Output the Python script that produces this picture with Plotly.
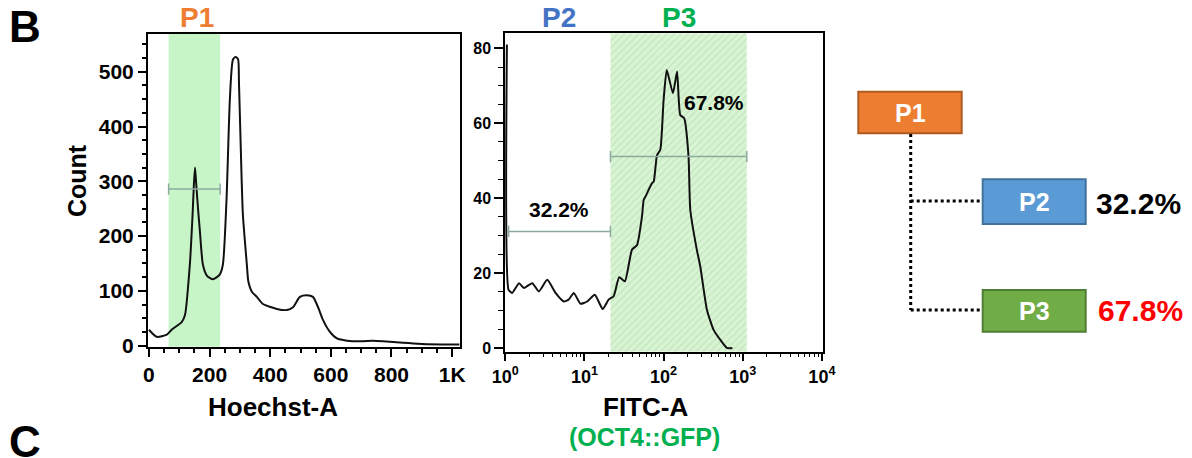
import numpy as np
import plotly.graph_objects as go

# ---------------- data ----------------
hoechst_x = [0, 26, 59, 75, 108, 119, 135, 144, 148, 152, 156, 162, 168, 178, 191, 211, 234, 244, 256, 267,
             277, 286, 294, 297, 306, 310, 323, 328, 340, 356, 376, 422, 455, 475, 498, 521, 541, 558,
             574, 597, 620, 653, 700, 739, 772, 838, 900, 1000, 1024]
hoechst_count = [29, 16, 20, 29, 43, 56, 148, 239, 290, 325, 295, 250, 210, 148, 128, 121, 130, 148, 267, 450,
                 522, 527, 523, 481, 300, 239, 148, 117, 98, 89, 76, 67, 65, 70, 89, 92, 89, 70,
                 47, 25, 13, 9, 8, 9, 8, 5, 3, 2, 2]

fitc_x = [1.047, 1.10, 1.22, 1.49, 1.72, 2.19, 2.65, 3.39, 4.31, 5.48, 6.31, 7.33, 8.91, 10.8, 13.5, 17.0,
          20.2, 23.4, 27.5, 32.4, 39.8, 46.2, 53.3, 56.0, 58.9, 71.4, 75.0, 82.6, 90.8, 100, 109.6, 131.2,
          147.9, 162.2, 182, 206.5, 217.3, 263, 290.4, 352.4, 426.6, 518.8, 631, 740]
fitc_count = [81, 15.5, 14.7, 17.3, 16.0, 17.3, 15.1, 18.2, 14.7, 12.4, 12.9, 14.7, 11.8, 12.4, 14.2, 10.4,
              12.9, 13.8, 18.9, 17.8, 26.2, 27.5, 35.1, 39.5, 40.4, 44.0, 44.4, 51.5, 52.9, 66.2, 74.2, 68.0,
              73.8, 62.2, 61.3, 51.1, 36.9, 26.2, 21.8, 10.2, 4.9, 2.2, 0, 0]

# gates
p1_gate = [65, 235]
p1_gate_level = 286
p2_gate = [1.1, 21.3]
p2_gate_level = 31.1
p3_gate = [21.3, 1125]
p3_gate_level = 51.1
p2_pct = "32.2%"
p3_pct = "67.8%"
p2_label_pos = [4.77, 36.9]
p3_label_pos = [436, 65.4]

left_xticks = [0, 200, 400, 600, 800, 1000]
left_xticktext = ["0", "200", "400", "600", "800", "1K"]
left_yticks = [0, 100, 200, 300, 400, 500]
right_xticks = [1, 10, 100, 1000, 10000]
right_xticktext = ["10<sup>0</sup>", "10<sup>1</sup>", "10<sup>2</sup>", "10<sup>3</sup>", "10<sup>4</sup>"]
right_yticks = [0, 20, 40, 60, 80]

W, H = 1192, 458
FONT = "Liberation Sans, Arial, sans-serif"


def px(x):
    return x / W


def py(y):
    return 1 - y / H


fig = go.Figure()

GATE_C = "rgb(140,170,160)"
BAND1 = "#C8F5C8"

# P3 hatched band
fig.add_trace(go.Scatter(
    x=[p3_gate[0], p3_gate[1], p3_gate[1], p3_gate[0], p3_gate[0]],
    y=[-1, -1, 84, 84, -1], xaxis="x2", yaxis="y2", mode="lines",
    line=dict(width=0), fill="toself", fillcolor="#D6F2D1",
    fillpattern=dict(shape="/", fgcolor="#C2E6BC", bgcolor="#D9F4D4", size=5, solidity=0.25),
    hoverinfo="skip", showlegend=False))

# left histogram
fig.add_trace(go.Scatter(x=hoechst_x, y=hoechst_count, mode="lines",
                         line=dict(color="#111111", width=2, shape="spline", smoothing=0.6),
                         showlegend=False, xaxis="x", yaxis="y"))
# right histogram
fig.add_trace(go.Scatter(x=fitc_x, y=fitc_count, mode="lines",
                         line=dict(color="#111111", width=2, shape="spline", smoothing=0.5),
                         showlegend=False, xaxis="x2", yaxis="y2"))

# gate lines
for gx, gy, xa, ya in [(p1_gate, p1_gate_level, "x", "y"),
                       (p2_gate, p2_gate_level, "x2", "y2"),
                       (p3_gate, p3_gate_level, "x2", "y2")]:
    fig.add_trace(go.Scatter(x=gx, y=[gy, gy], mode="lines+markers", xaxis=xa, yaxis=ya,
                             line=dict(color=GATE_C, width=1.5),
                             marker=dict(symbol="line-ns-open", size=8, line=dict(color=GATE_C, width=1.5)),
                             showlegend=False, hoverinfo="skip"))

# P1 band
fig.add_shape(type="rect", xref="x", yref="y domain", x0=p1_gate[0], x1=p1_gate[1], y0=0, y1=1,
              fillcolor=BAND1, line=dict(width=0), layer="below")

axis_common = dict(showline=True, linecolor="black", linewidth=2, mirror=True, ticks="outside",
                   showgrid=False, zeroline=False, automargin=False, tickcolor="black")

fig.update_layout(
    width=W, height=H, template="none",
    margin=dict(l=0, r=0, t=0, b=0),
    paper_bgcolor="white", plot_bgcolor="rgba(0,0,0,0)",
    showlegend=False,
    xaxis=dict(domain=[px(148), px(460)], range=[-3, 1026], tickvals=left_xticks,
               ticktext=left_xticktext, ticklen=8, tickwidth=2,
               tickfont=dict(family=FONT, size=21, color="black", weight="bold"),
               minor=dict(ticks="outside", dtick=50, ticklen=4, tickwidth=1.5, tickcolor="black"),
               anchor="y", **axis_common),
    yaxis=dict(domain=[py(346.7), py(34)], range=[-2, 569], tickvals=left_yticks, ticklen=8, tickwidth=2,
               tickfont=dict(family=FONT, size=21, color="black", weight="bold"),
               minor=dict(ticks="outside", dtick=25, ticklen=4, tickwidth=1.5, tickcolor="black"),
               anchor="x", **axis_common),
    xaxis2=dict(domain=[px(505), px(823)], type="log", range=[-0.004, 4.014], tickvals=right_xticks,
                ticktext=right_xticktext, ticklen=8, tickwidth=1.5,
                tickfont=dict(family=FONT, size=18, color="black", weight="bold"),
                minor=dict(ticks="outside", dtick="D1", ticklen=4, tickwidth=1.2, tickcolor="black"),
                anchor="y2", **axis_common),
    yaxis2=dict(domain=[py(351.7), py(33.3)], range=[-1, 84], tickvals=right_yticks, ticklen=9, tickwidth=1.5,
                tickfont=dict(family=FONT, size=16, color="black", weight="bold"),
                minor=dict(ticks="outside", dtick=5, ticklen=5, tickwidth=1.2, tickcolor="black"),
                anchor="x2", **axis_common),
)
fig.layout.xaxis2.linewidth = 1.5
fig.layout.yaxis2.linewidth = 1.5

ann = []


def txt(text, x, y, size, color="black", angle=0):
    ann.append(dict(text=text, x=px(x), y=py(y), xref="paper", yref="paper", showarrow=False,
                    xanchor="center", yanchor="middle", textangle=angle,
                    font=dict(family=FONT, size=size, color=color, weight="bold")))


txt("B", 25, 27, 44)
txt("C", 25, 441, 44)
txt("P1", 197, 18, 28, "#ED7D31")
txt("P2", 559, 18, 28, "#4472C4")
txt("P3", 679, 18, 28, "#00B050")
txt("Count", 77, 181, 25, angle=-90)
txt("Hoechst-A", 273, 407, 26)
txt("FITC-A", 645, 407, 26)
txt("(OCT4::GFP)", 644, 437, 25, "#00B050")

# percentage labels in the right plot (data coords, log x)
for t, pos in [(p2_pct, p2_label_pos), (p3_pct, p3_label_pos)]:
    ann.append(dict(text=t, x=np.log10(pos[0]), y=pos[1], xref="x2", yref="y2", showarrow=False,
                    xanchor="center", yanchor="middle",
                    font=dict(family=FONT, size=21, color="black", weight="bold")))

# ---------------- gating tree ----------------
boxes = [("P1", 858.3, 961.7, 91.7, 133.3, "#ED7D31", "#AE5A21"),
         ("P2", 982.7, 1085.7, 179.3, 224, "#5B9BD5", "#41719C"),
         ("P3", 982.7, 1085.7, 290, 331.7, "#70AD47", "#507E32")]
for name, x0, x1, y0, y1, fc, lc in boxes:
    fig.add_shape(type="rect", xref="paper", yref="paper", x0=px(x0), x1=px(x1), y0=py(y1), y1=py(y0),
                  fillcolor=fc, line=dict(color=lc, width=2))
    ann.append(dict(text=name, x=px((x0 + x1) / 2), y=py((y0 + y1) / 2), xref="paper", yref="paper",
                    showarrow=False, xanchor="center", yanchor="middle",
                    font=dict(family=FONT, size=25, color="white", weight="bold")))

dot = dict(color="black", width=3, dash="3px,3px")
fig.add_shape(type="line", xref="paper", yref="paper", x0=px(910.7), x1=px(910.7), y0=py(134), y1=py(310),
              line=dot)
fig.add_shape(type="line", xref="paper", yref="paper", x0=px(910.7), x1=px(982.7), y0=py(201), y1=py(201),
              line=dot)
fig.add_shape(type="line", xref="paper", yref="paper", x0=px(910.7), x1=px(982.7), y0=py(310), y1=py(310),
              line=dot)

ann.append(dict(text=p2_pct, x=px(1138), y=py(203), xref="paper", yref="paper", showarrow=False,
                xanchor="center", yanchor="middle", font=dict(family=FONT, size=30, color="black", weight="bold")))
ann.append(dict(text=p3_pct, x=px(1140), y=py(310), xref="paper", yref="paper", showarrow=False,
                xanchor="center", yanchor="middle", font=dict(family=FONT, size=30, color="#FF0000", weight="bold")))

fig.update_layout(annotations=ann)
fig.write_html("out.html", config={"displayModeBar": False},
               post_script="document.body.style.margin='0';document.body.style.overflow='hidden';")
